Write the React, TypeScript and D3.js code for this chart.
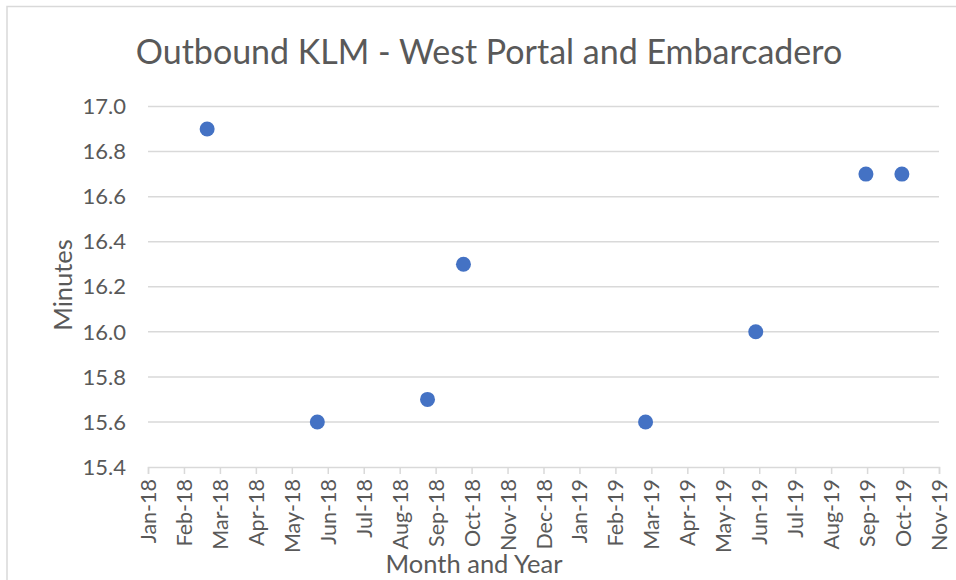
import React, { useEffect, useRef } from 'react';
import * as d3 from 'd3';

const obsDates = ['2018-02-21', '2018-05-27', '2018-08-30', '2018-09-30', '2019-03-06', '2019-06-09', '2019-09-12', '2019-10-13'];
const obsMinutes = [16.9, 15.6, 15.7, 16.3, 15.6, 16.0, 16.7, 16.7];
const yTickValues = [15.4, 15.6, 15.8, 16.0, 16.2, 16.4, 16.6, 16.8, 17.0];

const chartTitle = 'Outbound KLM - West Portal and Embarcadero';
const xTitle = 'Month and Year';
const yTitle = 'Minutes';

const W = 956, H = 580;
const FONT = 'Lato, "Open Sans", sans-serif';

function App() {
    const ref = useRef<SVGSVGElement>(null);

    useEffect(() => {
        const svg = d3.select(ref.current);
        svg.selectAll('*').remove();

        const parse = d3.utcParse('%Y-%m-%d');
        const start = parse('2018-01-01') as Date;
        // excel axis: major unit of 31 days, 22 steps
        const xTicks = d3.range(23).map(i => d3.utcDay.offset(start, i * 31));
        const end = xTicks[xTicks.length - 1];

        const margin = { left: 148, right: W - 939, top: 106.5, bottom: H - 467 };

        const x = d3.scaleUtc()
            .domain([start, end])
            .range([margin.left, W - margin.right]);

        const y = d3.scaleLinear()
            .domain([15.4, 17.0])
            .range([H - margin.bottom, margin.top]);

        const data = obsDates.map((d, i) => ({ date: parse(d) as Date, value: obsMinutes[i] }));

        // chart frame
        svg.append('rect')
            .attr('x', 7).attr('y', 6.5)
            .attr('width', W + 20).attr('height', H + 20)
            .attr('fill', '#fff')
            .attr('stroke', '#d9d9d9')
            .attr('stroke-width', 1.5);

        // gridlines
        svg.append('g')
            .selectAll('line')
            .data(yTickValues.slice(1))
            .join('line')
            .attr('x1', x.range()[0]).attr('x2', x.range()[1])
            .attr('y1', d => y(d)).attr('y2', d => y(d))
            .attr('stroke', '#d9d9d9')
            .attr('stroke-width', 1.5);

        // y axis labels
        svg.append('g')
            .selectAll('text')
            .data(yTickValues)
            .join('text')
            .attr('x', 126)
            .attr('y', d => y(d))
            .attr('dy', '0.35em')
            .attr('text-anchor', 'end')
            .attr('font-family', FONT)
            .attr('font-size', 22)
            .attr('fill', '#595959')
            .text(d => d.toFixed(1));

        // x axis
        const xAxis = svg.append('g')
            .attr('transform', 'translate(0,' + y(15.4) + ')')
            .call(d3.axisBottom(x)
                .tickValues(xTicks)
                .tickSize(7)
                .tickFormat(d3.utcFormat('%b-%y') as any));

        xAxis.select('.domain')
            .attr('stroke', '#d9d9d9')
            .attr('stroke-width', 1.5);
        xAxis.selectAll('.tick line')
            .attr('stroke', '#d9d9d9')
            .attr('stroke-width', 1.5);
        xAxis.selectAll('.tick text')
            .attr('transform', 'rotate(-90)')
            .attr('x', -12)
            .attr('y', 0)
            .attr('dy', '0.35em')
            .attr('text-anchor', 'end')
            .attr('font-family', FONT)
            .attr('font-size', 21.5)
            .attr('fill', '#595959');

        // markers
        svg.append('g')
            .selectAll('circle')
            .data(data)
            .join('circle')
            .attr('cx', d => x(d.date))
            .attr('cy', d => y(d.value))
            .attr('r', 7.5)
            .attr('fill', '#4472c4');

        // titles
        svg.append('text')
            .attr('x', 489).attr('y', 64)
            .attr('text-anchor', 'middle')
            .attr('font-family', FONT)
            .attr('font-size', 34)
            .attr('fill', '#595959')
            .text(chartTitle);

        svg.append('text')
            .attr('x', 474).attr('y', 573)
            .attr('text-anchor', 'middle')
            .attr('font-family', FONT)
            .attr('font-size', 25.5)
            .attr('fill', '#595959')
            .text(xTitle);

        svg.append('text')
            .attr('transform', 'translate(72,285) rotate(-90)')
            .attr('text-anchor', 'middle')
            .attr('font-family', FONT)
            .attr('font-size', 25.5)
            .attr('fill', '#595959')
            .text(yTitle);
    }, []);

    return (
        <div style={{ position: 'absolute', left: 0, top: 0 }}>
            <svg ref={ref} width={W} height={H} style={{ display: 'block' }}></svg>
        </div>
    );
}

export default App;
